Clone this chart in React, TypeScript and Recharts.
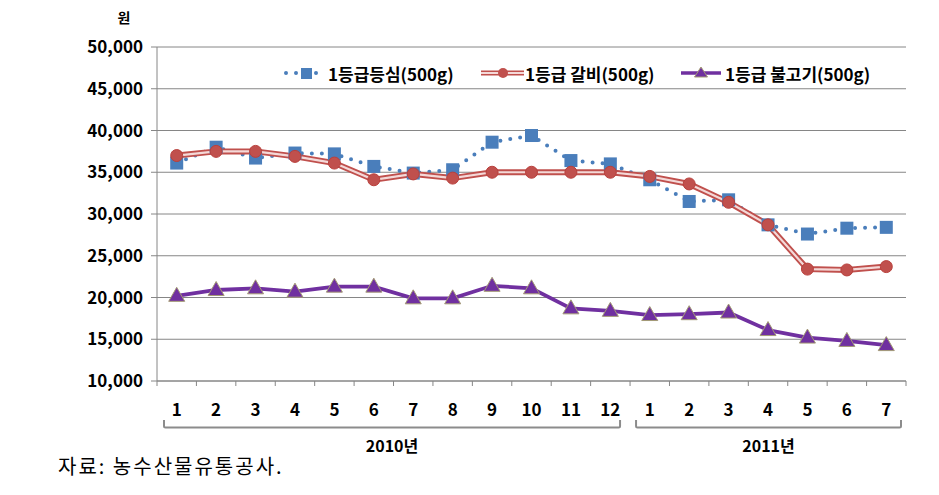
import { LineChart, Line, XAxis, YAxis, CartesianGrid } from "recharts";

// 월별 가격 (원)
const months = ["1", "2", "3", "4", "5", "6", "7", "8", "9", "10", "11", "12", "1", "2", "3", "4", "5", "6", "7"];
const sirloin = [36100, 38000, 36700, 37300, 37200, 35700, 34900, 35300, 38600, 39400, 36400, 36000, 34100, 31500, 31700, 28700, 27600, 28300, 28400];
const ribs = [37000, 37500, 37500, 36900, 36100, 34100, 34800, 34300, 35000, 35000, 35000, 35000, 34500, 33600, 31400, 28700, 23400, 23300, 23700];
const bulgogi = [20200, 20900, 21100, 20700, 21300, 21300, 19900, 19900, 21400, 21100, 18700, 18400, 17900, 18000, 18200, 16100, 15200, 14800, 14300];
const yTicks = [10000, 15000, 20000, 25000, 30000, 35000, 40000, 45000, 50000];
const years = [
  { label: "2010년", from: 0, to: 11 },
  { label: "2011년", from: 12, to: 18 },
];
const seriesNames = ["1등급등심(500g)", "1등급 갈비(500g)", "1등급 불고기(500g)"];

const data = months.map((m, i) => ({ idx: i, m, sirloin: sirloin[i], ribs: ribs[i], bulgogi: bulgogi[i] }));

const W = 939;
const H = 495;
const LEFT = 157;
const RIGHT = 906;
const TOP = 47;
const BOTTOM = 381;
const Y_W = 100;
const X_H = 30;
const BW = (RIGHT - LEFT) / months.length;

const FONT = "'Noto Sans CJK KR', 'Noto Sans', sans-serif";
const GRID = "#868686";
const BLUE = "#4a7ebb";
const RED = "#c0504d";
const RED_IN = "#f4d9d8";
const PURPLE = "#7030a0";

function SquareDot(p: any) {
  const { cx, cy, index } = p;
  return <rect key={`s${index}`} x={cx - 6.5} y={cy - 6.5} width={13} height={13} fill={BLUE} />;
}

function CircleDot(p: any) {
  const { cx, cy, index } = p;
  return <circle key={`c${index}`} cx={cx} cy={cy} r={6} fill={RED} stroke="#b9403c" strokeWidth={1} />;
}

function TriDot(p: any) {
  const { cx, cy, index } = p;
  return (
    <polygon
      key={`t${index}`}
      points={`${cx},${cy - 8.5} ${cx - 8},${cy + 5.5} ${cx + 8},${cy + 5.5}`}
      fill={PURPLE}
      stroke="#a39a74"
      strokeWidth={1}
    />
  );
}

function MonthTick(p: any) {
  const { x, y, payload } = p;
  const i = payload.value as number;
  const last = i === months.length - 1;
  return (
    <g>
      <line x1={x - BW / 2} x2={x - BW / 2} y1={y} y2={y + 5} stroke={GRID} />
      {last && <line x1={x + BW / 2} x2={x + BW / 2} y1={y} y2={y + 5} stroke={GRID} />}
      <text x={x} y={y + 35} textAnchor="middle" fontFamily={FONT} fontWeight={700} fontSize={17} fill="#000">
        {months[i]}
      </text>
    </g>
  );
}

function LegendItem({ left, kind, name }: { left: number; kind: number; name: string }) {
  return (
    <div style={{ position: "absolute", left, top: 61, display: "flex", alignItems: "center", height: 24 }}>
      <svg width={44} height={22} style={{ display: "block" }}>
        {kind === 0 && (
          <>
            <line x1={2} x2={40} y1={11} y2={11} stroke={BLUE} strokeWidth={4} strokeDasharray="0 10" strokeLinecap="round" />
            <rect x={17} y={6} width={11} height={11} fill={BLUE} />
          </>
        )}
        {kind === 1 && (
          <>
            <line x1={0} x2={43} y1={11} y2={11} stroke={RED} strokeWidth={5} />
            <line x1={0} x2={43} y1={11} y2={11} stroke={RED_IN} strokeWidth={2} />
            <circle cx={22} cy={11} r={5} fill={RED} />
          </>
        )}
        {kind === 2 && (
          <>
            <line x1={0} x2={40} y1={11} y2={11} stroke={PURPLE} strokeWidth={3.5} />
            <polygon points="20,5 13.5,15 26.5,15" fill={PURPLE} stroke="#a39a74" strokeWidth={1} />
          </>
        )}
      </svg>
      <span style={{ fontFamily: FONT, fontWeight: 700, fontSize: 17, color: "#000", whiteSpace: "nowrap" }}>{name}</span>
    </div>
  );
}

export default function App() {
  return (
    <div style={{ position: "absolute", left: 0, top: 0, width: W, height: H, background: "#fff", fontFamily: FONT }}>
      <LineChart
        width={W}
        height={H}
        data={data}
        margin={{ top: TOP, right: W - RIGHT, left: LEFT - Y_W, bottom: H - BOTTOM - X_H }}
      >
        <CartesianGrid vertical={false} stroke={GRID} />
        <XAxis
          dataKey="idx"
          type="category"
          padding={{ left: BW / 2, right: BW / 2 }}
          height={X_H}
          axisLine={{ stroke: GRID }}
          tickLine={false}
          tickSize={0}
          tickMargin={0}
          interval={0}
          tick={MonthTick}
        />
        <YAxis
          width={Y_W}
          domain={[10000, 50000]}
          ticks={yTicks}
          interval={0}
          axisLine={{ stroke: GRID }}
          tickLine={{ stroke: GRID }}
          tickSize={6}
          tickMargin={8}
          tickFormatter={(v: number) => v.toLocaleString("en-US")}
          tick={{ fontFamily: FONT, fontWeight: 700, fontSize: 17, fill: "#000" }}
        />
        <Line
          dataKey="sirloin"
          stroke={BLUE}
          strokeWidth={4}
          strokeDasharray="0 10"
          strokeLinecap="round"
          dot={SquareDot}
          activeDot={false}
          isAnimationActive={false}
        />
        <Line dataKey="ribs" stroke={RED} strokeWidth={6} dot={false} activeDot={false} isAnimationActive={false} />
        <Line dataKey="ribs" stroke={RED_IN} strokeWidth={2.2} dot={CircleDot} activeDot={false} isAnimationActive={false} />
        <Line dataKey="bulgogi" stroke={PURPLE} strokeWidth={3.8} dot={TriDot} activeDot={false} isAnimationActive={false} />
      </LineChart>

      <svg width={W} height={H} style={{ position: "absolute", left: 0, top: 0, pointerEvents: "none" }}>
        <text x={124} y={23} textAnchor="middle" fontFamily={FONT} fontWeight={700} fontSize={14} fill="#000">
          원
        </text>
        {years.map((yr, i) => {
          const x1 = LEFT + yr.from * BW + (i === 0 ? 7 : 6);
          const x2 = LEFT + (yr.to + 1) * BW - (i === 0 ? 10 : 5);
          return (
            <g key={yr.label}>
              <path
                d={`M${x1},420 L${x1},426 Q${x1},427.5 ${x1 + 1.5},427.5 L${x2 - 1.5},427.5 Q${x2},427.5 ${x2},426 L${x2},420`}
                fill="none"
                stroke="#8c8c8c"
                strokeWidth={2}
              />
              <text x={(x1 + x2) / 2} y={452} textAnchor="middle" fontFamily={FONT} fontWeight={700} fontSize={16} fill="#000">
                {yr.label}
              </text>
            </g>
          );
        })}
      </svg>

      <LegendItem left={284} kind={0} name={seriesNames[0]} />
      <LegendItem left={481} kind={1} name={seriesNames[1]} />
      <LegendItem left={681} kind={2} name={seriesNames[2]} />

      <div
        style={{
          position: "absolute",
          left: 58,
          top: 451,
          fontFamily: FONT,
          fontSize: 20,
          letterSpacing: 2,
          color: "#000",
          whiteSpace: "nowrap",
        }}
      >
        자료: 농수산물유통공사.
      </div>
    </div>
  );
}
